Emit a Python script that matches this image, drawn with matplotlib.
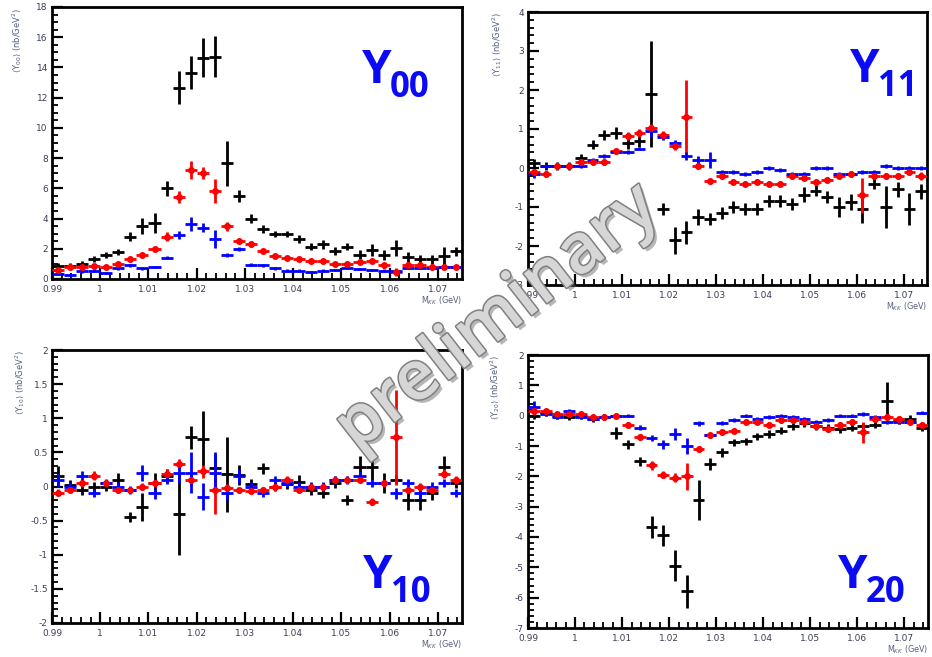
import numpy as np
import matplotlib
matplotlib.use("Agg")
import matplotlib.pyplot as plt
from matplotlib import patheffects as pe
from matplotlib.ticker import MultipleLocator, FuncFormatter

# ---- binning of the K+K- invariant mass (GeV) ----
mass_lo = 0.99
mass_hi = 1.075
bin_width = 0.0025
n_bins = 34
mass = mass_lo + bin_width * (np.arange(n_bins) + 0.5)
x_ticks = [0.99, 1.00, 1.01, 1.02, 1.03, 1.04, 1.05, 1.06, 1.07]

# ---- <Y00> moments ----
y00_black = [0.84, 0.85, 1.0, 1.3, 1.6, 1.8, 2.8, 3.5, 3.7, 6.0, 12.65, 13.65, 14.65, 14.7, 7.65, 5.5, 4.0,
             3.3, 3.0, 3.0, 2.65, 2.15, 2.3, 1.85, 2.15, 1.6, 1.9, 1.6, 2.05, 1.45, 1.3, 1.3, 1.55, 1.85]
y00_black_err = [0.2, 0.2, 0.2, 0.2, 0.2, 0.2, 0.3, 0.55, 0.65, 0.5, 1.1, 1.1, 1.3, 1.35, 1.5, 0.4, 0.3,
                 0.25, 0.2, 0.2, 0.25, 0.25, 0.3, 0.25, 0.25, 0.3, 0.4, 0.35, 0.55, 0.35, 0.3, 0.3, 0.6, 0.3]
y00_red = [0.6, 0.8, 0.8, 0.85, 0.8, 1.0, 1.3, 1.6, 2.0, 2.8, 5.4, 7.2, 7.0, 5.85, 3.5, 2.5, 2.3,
           1.85, 1.5, 1.4, 1.3, 1.2, 1.2, 1.0, 1.0, 1.1, 1.2, 0.9, 0.45, 0.9, 0.95, 0.8, 0.8, 0.8]
y00_red_err = [0.12, 0.12, 0.12, 0.12, 0.12, 0.12, 0.15, 0.15, 0.15, 0.3, 0.4, 0.6, 0.4, 0.8, 0.3, 0.15, 0.15,
               0.15, 0.12, 0.12, 0.12, 0.12, 0.12, 0.12, 0.12, 0.12, 0.15, 0.15, 0.25, 0.15, 0.15, 0.15, 0.15, 0.15]
y00_blue = [0.35, 0.25, 0.5, 0.55, 0.4, 0.7, 0.9, 0.7, 0.8, 1.4, 2.9, 3.65, 3.4, 2.65, 1.6, 2.0, 0.95,
            0.9, 0.7, 0.55, 0.55, 0.45, 0.55, 0.6, 0.75, 0.65, 0.6, 0.55, 0.5, 0.75, 0.75, 0.7, 0.8, 0.8]
y00_blue_err = [0.08, 0.08, 0.08, 0.08, 0.08, 0.08, 0.08, 0.08, 0.08, 0.1, 0.25, 0.45, 0.3, 0.6, 0.15, 0.15, 0.08,
                0.08, 0.08, 0.08, 0.08, 0.08, 0.08, 0.08, 0.08, 0.08, 0.08, 0.08, 0.08, 0.08, 0.08, 0.08, 0.08, 0.08]

# ---- <Y11> moments ----
y11_black = [0.12, 0.05, 0.05, 0.05, 0.25, 0.6, 0.85, 0.9, 0.65, 0.7, 1.9, -1.05, -1.85, -1.65, -1.25, -1.3, -1.15,
             -1.0, -1.05, -1.05, -0.85, -0.85, -0.93, -0.68, -0.58, -0.74, -1.0, -0.87, -1.05, -0.4, -1.0, -0.55, -1.05, -0.6]
y11_black_err = [0.1, 0.1, 0.1, 0.1, 0.12, 0.12, 0.12, 0.15, 0.15, 0.15, 1.35, 0.15, 0.35, 0.3, 0.2, 0.15, 0.15,
                 0.15, 0.15, 0.15, 0.15, 0.15, 0.15, 0.2, 0.15, 0.15, 0.25, 0.2, 0.35, 0.15, 0.55, 0.2, 0.4, 0.2]
y11_red = [-0.1, -0.15, 0.05, 0.05, 0.15, 0.15, 0.15, 0.43, 0.82, 0.9, 1.02, 0.85, 0.56, 1.3, 0.05, -0.34, -0.2,
           -0.35, -0.4, -0.35, -0.4, -0.4, -0.2, -0.25, -0.35, -0.3, -0.2, -0.15, -0.7, -0.2, -0.2, -0.2, -0.1, -0.2]
y11_red_err = [0.07, 0.07, 0.07, 0.07, 0.07, 0.07, 0.07, 0.07, 0.1, 0.1, 0.1, 0.1, 0.1, 0.95, 0.07, 0.07, 0.07,
               0.07, 0.07, 0.07, 0.07, 0.07, 0.07, 0.07, 0.07, 0.07, 0.07, 0.07, 0.45, 0.07, 0.07, 0.07, 0.07, 0.1]
y11_blue = [-0.15, 0.05, 0.05, 0.05, 0.05, 0.2, 0.3, 0.4, 0.4, 0.5, 0.95, 0.8, 0.65, 0.3, 0.2, 0.2, -0.1,
            -0.1, -0.15, -0.1, 0.0, -0.05, -0.15, -0.15, 0.0, 0.0, -0.15, -0.15, -0.1, -0.1, 0.05, 0.0, 0.0, 0.0]
y11_blue_err = [0.1, 0.05, 0.05, 0.05, 0.05, 0.05, 0.05, 0.05, 0.05, 0.05, 0.15, 0.08, 0.08, 0.1, 0.1, 0.2, 0.05,
                0.05, 0.05, 0.05, 0.05, 0.05, 0.05, 0.05, 0.05, 0.05, 0.05, 0.05, 0.05, 0.05, 0.05, 0.05, 0.05, 0.05]

# ---- <Y10> moments ----
y10_black = [0.15, 0.02, -0.05, 0.0, 0.0, 0.1, -0.45, -0.3, 0.05, 0.15, -0.4, 0.72, 0.7, 0.27, 0.18, 0.17, 0.04,
             0.27, 0.0, 0.04, 0.07, -0.05, -0.1, 0.05, -0.2, 0.29, 0.29, 0.05, 0.1, -0.2, -0.2, -0.1, 0.29, 0.05]
y10_black_err = [0.15, 0.07, 0.07, 0.07, 0.07, 0.1, 0.07, 0.2, 0.15, 0.1, 0.6, 0.17, 0.4, 0.2, 0.55, 0.15, 0.07,
                 0.08, 0.07, 0.07, 0.1, 0.07, 0.07, 0.07, 0.07, 0.15, 0.2, 0.15, 0.07, 0.15, 0.15, 0.1, 0.15, 0.07]
y10_red = [-0.09, -0.05, 0.05, 0.16, 0.05, -0.05, -0.05, 0.0, 0.05, 0.19, 0.33, 0.1, 0.22, -0.05, -0.02, -0.05, -0.06,
           -0.05, 0.0, 0.1, -0.05, 0.0, 0.0, 0.1, 0.1, 0.1, -0.22, 0.05, 0.72, -0.05, 0.0, -0.05, 0.19, 0.1]
y10_red_err = [0.05, 0.05, 0.05, 0.06, 0.05, 0.05, 0.05, 0.05, 0.05, 0.06, 0.08, 0.08, 0.1, 0.35, 0.06, 0.05, 0.05,
               0.05, 0.05, 0.05, 0.05, 0.05, 0.05, 0.05, 0.05, 0.05, 0.05, 0.05, 0.7, 0.05, 0.05, 0.05, 0.06, 0.06]
y10_blue = [0.1, 0.0, 0.15, -0.1, 0.05, 0.0, -0.05, 0.2, -0.1, 0.1, 0.2, 0.2, -0.15, 0.2, -0.1, 0.15, 0.0,
            -0.1, 0.1, 0.05, 0.0, 0.0, 0.0, 0.1, 0.1, 0.15, 0.05, 0.05, -0.1, 0.05, -0.1, 0.0, 0.05, -0.1]
y10_blue_err = [0.1, 0.06, 0.08, 0.06, 0.06, 0.06, 0.06, 0.12, 0.08, 0.06, 0.15, 0.3, 0.2, 0.3, 0.1, 0.1, 0.06,
                0.06, 0.06, 0.06, 0.06, 0.06, 0.06, 0.06, 0.06, 0.08, 0.06, 0.06, 0.08, 0.06, 0.08, 0.06, 0.06, 0.06]

# ---- <Y20> moments ----
y20_black = [0.0, 0.1, 0.0, -0.05, 0.0, -0.1, -0.05, -0.57, -0.94, -1.51, -3.67, -3.94, -4.94, -5.79, -2.78, -1.6, -1.21,
             -0.88, -0.85, -0.68, -0.6, -0.5, -0.35, -0.25, -0.35, -0.4, -0.45, -0.4, -0.35, -0.3, 0.5, -0.15, -0.1, -0.4]
y20_black_err = [0.1, 0.1, 0.1, 0.1, 0.1, 0.1, 0.1, 0.2, 0.15, 0.15, 0.35, 0.35, 0.5, 0.55, 0.65, 0.2, 0.15,
                 0.12, 0.12, 0.12, 0.12, 0.12, 0.12, 0.12, 0.12, 0.12, 0.12, 0.12, 0.12, 0.12, 0.6, 0.12, 0.12, 0.12]
y20_red = [0.15, 0.15, 0.05, 0.05, 0.05, -0.05, -0.05, 0.0, -0.3, -0.7, -1.63, -1.95, -2.05, -2.0, -1.1, -0.65, -0.55,
           -0.5, -0.2, -0.2, -0.3, -0.15, -0.15, -0.2, -0.35, -0.45, -0.3, -0.2, -0.55, -0.1, -0.05, -0.1, -0.2, -0.3]
y20_red_err = [0.08, 0.08, 0.08, 0.08, 0.08, 0.08, 0.08, 0.08, 0.08, 0.1, 0.15, 0.12, 0.15, 0.45, 0.1, 0.08, 0.08,
               0.08, 0.08, 0.08, 0.08, 0.08, 0.08, 0.08, 0.08, 0.08, 0.08, 0.08, 0.35, 0.08, 0.08, 0.08, 0.08, 0.1]
y20_blue = [0.3, 0.05, -0.05, 0.15, -0.05, -0.1, -0.05, 0.0, 0.0, -0.4, -0.75, -0.95, -0.6, -1.0, -0.25, -0.65, -0.25,
            -0.15, 0.0, -0.1, -0.05, 0.0, -0.05, -0.1, -0.2, -0.15, 0.0, 0.0, 0.05, -0.05, -0.2, -0.2, -0.2, 0.1]
y20_blue_err = [0.2, 0.06, 0.06, 0.06, 0.06, 0.06, 0.06, 0.06, 0.06, 0.08, 0.1, 0.15, 0.2, 0.25, 0.08, 0.08, 0.06,
                0.06, 0.06, 0.06, 0.06, 0.06, 0.06, 0.06, 0.06, 0.06, 0.06, 0.06, 0.06, 0.06, 0.06, 0.06, 0.06, 0.06]

COL_BLACK = "#000000"
COL_RED = "#ff0000"
COL_BLUE = "#0000ff"
LABEL_BLUE = "#0a0af5"
TICK_COL = "#3a3f55"
TITLE_COL = "#55607f"

W, H = 932, 657
fig = plt.figure(figsize=(W / 100, H / 100), dpi=100)
fig.patch.set_facecolor("white")


def px_rect(left, top, right, bottom):
    return [left / W, 1 - bottom / H, (right - left) / W, (bottom - top) / H]


def fmt_num(v, _pos):
    return "%g" % round(v, 6)


panels = [
    dict(rect=px_rect(52, 7, 462, 279), ylim=(0, 18), major=2, minor=0.5,
         series=[(y00_black, y00_black_err, COL_BLACK), (y00_red, y00_red_err, COL_RED),
                 (y00_blue, y00_blue_err, COL_BLUE)],
         ytitle=r"$\langle$Y$_{00}\rangle$ (nb/GeV$^2$)", ytitle_xy=(17, 8),
         xtitle_y=301, big=("Y", "00"), big_xy=(362, 83)),
    dict(rect=px_rect(528, 12, 927, 285), ylim=(-3, 4), major=1, minor=0.2,
         series=[(y11_black, y11_black_err, COL_BLACK), (y11_red, y11_red_err, COL_RED),
                 (y11_blue, y11_blue_err, COL_BLUE)],
         ytitle=r"$\langle$Y$_{11}\rangle$ (nb/GeV$^2$)", ytitle_xy=(497, 12),
         xtitle_y=307, big=("Y", "11"), big_xy=(850, 82)),
    dict(rect=px_rect(52, 350, 462, 623), ylim=(-2, 2), major=0.5, minor=0.1,
         series=[(y10_black, y10_black_err, COL_BLACK), (y10_red, y10_red_err, COL_RED),
                 (y10_blue, y10_blue_err, COL_BLUE)],
         ytitle=r"$\langle$Y$_{10}\rangle$ (nb/GeV$^2$)", ytitle_xy=(20, 350),
         xtitle_y=645, big=("Y", "10"), big_xy=(363, 588)),
    dict(rect=px_rect(528, 355, 928, 628), ylim=(-7, 2), major=1, minor=0.2,
         series=[(y20_black, y20_black_err, COL_BLACK), (y20_red, y20_red_err, COL_RED),
                 (y20_blue, y20_blue_err, COL_BLUE)],
         ytitle=r"$\langle$Y$_{20}\rangle$ (nb/GeV$^2$)", ytitle_xy=(495, 355),
         xtitle_y=650, big=("Y", "20"), big_xy=(838, 588)),
]

for p in panels:
    ax = fig.add_axes(p["rect"])
    ax.set_xlim(mass_lo, mass_hi)
    ax.set_ylim(*p["ylim"])
    for vals, errs, col in p["series"]:
        is_red = col == COL_RED
        ax.errorbar(mass, vals, xerr=bin_width / 2, yerr=errs,
                    fmt="o" if is_red else "none", ms=4.0 if is_red else 0,
                    color=col, ecolor=col, elinewidth=2.0, capsize=0, zorder=3)
    for s in ax.spines.values():
        s.set_linewidth(2.0)
    ax.set_xticks(x_ticks)
    ax.xaxis.set_minor_locator(MultipleLocator(0.002))
    ax.yaxis.set_major_locator(MultipleLocator(p["major"]))
    ax.yaxis.set_minor_locator(MultipleLocator(p["minor"]))
    ax.xaxis.set_major_formatter(FuncFormatter(fmt_num))
    ax.yaxis.set_major_formatter(FuncFormatter(fmt_num))
    ax.tick_params(which="major", direction="in", length=8, width=1.6,
                   top=False, right=False, labelsize=6.5, labelcolor=TICK_COL)
    ax.tick_params(axis="x", which="major", pad=4.5)
    ax.tick_params(axis="y", which="major", pad=3)
    ax.tick_params(which="minor", direction="in", length=4, width=1.3,
                   top=False, right=False)
    ax.set_ylim(*p["ylim"])

    # axis titles
    tx, ty = p["ytitle_xy"]
    fig.text(tx / W, 1 - ty / H, p["ytitle"], rotation=90, ha="center", va="top",
             fontsize=6, color=TITLE_COL)
    r = p["rect"]
    fig.text(r[0] + r[2], 1 - p["xtitle_y"] / H, r"M$_{KK}$ (GeV)", ha="right", va="center",
             fontsize=5.8, color=TITLE_COL)

    # moment label
    bx, by = p["big_xy"]
    fig.text(bx / W, 1 - by / H, p["big"][0], ha="left", va="baseline",
             fontsize=34, fontweight="bold", family="Open Sans", color=LABEL_BLUE)
    fig.text((bx + 28) / W, 1 - (by + 14) / H, p["big"][1], ha="left", va="baseline",
             fontsize=25, fontweight="bold", family="Open Sans", color=LABEL_BLUE)

# watermark
fig.text(0.535, 0.515, "preliminary", rotation=38, ha="center", va="center",
         fontsize=50, family="Open Sans", fontweight="semibold", color="#d6d6d6", zorder=20,
         path_effects=[pe.SimplePatchShadow(offset=(2.5, -2.5), shadow_rgbFace="#606060", alpha=0.45),
                       pe.Stroke(linewidth=2.2, foreground="#808080"), pe.Normal()])

fig.savefig("out.png", dpi=100, facecolor="white")
